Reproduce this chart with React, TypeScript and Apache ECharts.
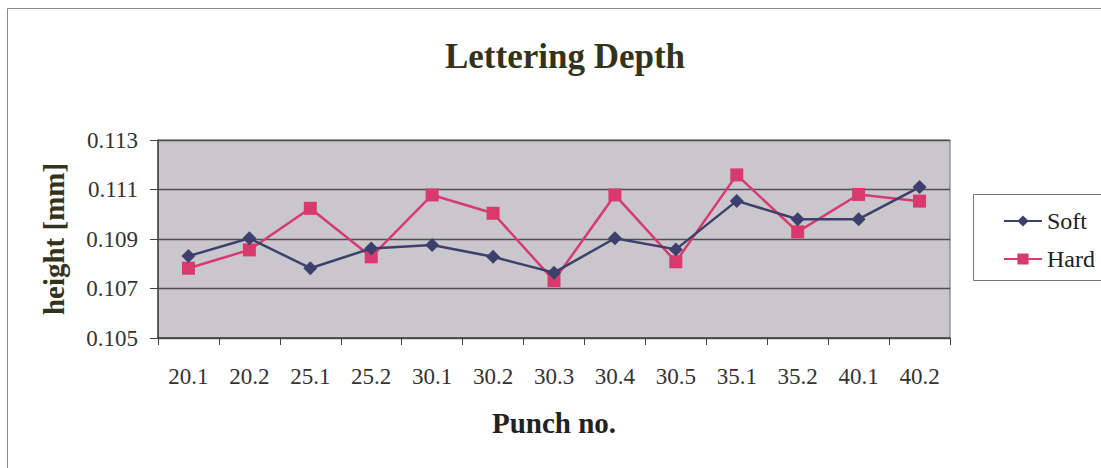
import React, { useEffect, useRef } from "react";
import * as echarts from "echarts";

const categories = ["20.1", "20.2", "25.1", "25.2", "30.1", "30.2", "30.3", "30.4", "30.5", "35.1", "35.2", "40.1", "40.2"];
const softValues = [0.10831, 0.10903, 0.10782, 0.10862, 0.10876, 0.10828, 0.10764, 0.10903, 0.10858, 0.11054, 0.1098, 0.1098, 0.1111];
const hardValues = [0.10782, 0.10856, 0.11024, 0.10828, 0.11078, 0.11004, 0.10732, 0.11078, 0.10808, 0.11159, 0.10929, 0.1108, 0.11053];
const yTicks = { min: 0.105, max: 0.113, interval: 0.002 };

const FONT = "'Liberation Serif', 'DejaVu Serif', serif";

export default function App() {
  const ref = useRef<HTMLDivElement>(null);
  useEffect(() => {
    document.body.style.margin = "0";
    const chart = echarts.init(ref.current!, null, { renderer: "svg" });
    chart.setOption({
      animation: false,
      backgroundColor: "#ffffff",
      title: {
        text: "Lettering Depth",
        left: 560,
        top: 34,
        textAlign: "center",
        textStyle: { fontFamily: FONT, fontSize: 35, fontWeight: "bold", color: "#33331c" },
      },
      graphic: [
        {
          type: "rect",
          shape: { x: 7.5, y: 8.5, width: 1100, height: 470 },
          style: { fill: "none", stroke: "#8c8c8c", lineWidth: 1 },
          silent: true,
        },
        {
          type: "rect",
          shape: { x: 973.5, y: 194.5, width: 140, height: 86 },
          style: { fill: "#ffffff", stroke: "#777777", lineWidth: 1 },
          silent: true,
          z: 0,
        },
      ],
      legend: {
        orient: "vertical",
        left: 1003,
        top: 209,
        itemWidth: 38,
        itemHeight: 14,
        itemGap: 14,
        padding: 0,
        textStyle: { fontFamily: FONT, fontSize: 24, color: "#222222" },
        data: ["Soft", "Hard"],
        z: 5,
      },
      grid: { left: 158, top: 140, width: 792, height: 198, show: true, backgroundColor: "#c9c6cc", borderColor: "#6d6d6d", borderWidth: 1 },
      xAxis: {
        type: "category",
        data: categories,
        boundaryGap: true,
        name: "Punch no.",
        nameLocation: "middle",
        nameGap: 70,
        nameTextStyle: { fontFamily: FONT, fontSize: 29, fontWeight: "bold", color: "#222222" },
        axisLine: { lineStyle: { color: "#444444", width: 1.5 } },
        axisTick: { show: true, inside: false, length: 7, alignWithLabel: false, lineStyle: { color: "#444444" } },
        axisLabel: { fontFamily: FONT, fontSize: 23, color: "#333333", margin: 27 },
      },
      yAxis: {
        type: "value",
        min: yTicks.min,
        max: yTicks.max,
        interval: yTicks.interval,
        name: "height [mm]",
        nameLocation: "middle",
        nameGap: 90,
        nameRotate: 90,
        nameTextStyle: { fontFamily: FONT, fontSize: 29, fontWeight: "bold", color: "#33331c" },
        axisLine: { show: true, lineStyle: { color: "#444444", width: 1.5 } },
        axisTick: { show: true, length: 8, lineStyle: { color: "#444444" } },
        axisLabel: { fontFamily: FONT, fontSize: 23, color: "#333333", margin: 20, formatter: (v: number) => v.toFixed(3) },
        splitLine: { show: true, lineStyle: { color: "#4f4f4f", width: 1.3 } },
      },
      series: [
        {
          name: "Soft",
          type: "line",
          data: softValues,
          symbol: "diamond",
          symbolSize: 14,
          lineStyle: { color: "#3d3f6c", width: 2.5 },
          itemStyle: { color: "#3d3f6c" },
          z: 3,
        },
        {
          name: "Hard",
          type: "line",
          data: hardValues,
          symbol: "rect",
          symbolSize: 13,
          lineStyle: { color: "#d83a6e", width: 2.5 },
          itemStyle: { color: "#d83a6e" },
          z: 2,
        },
      ],
    });
    return () => chart.dispose();
  }, []);
  return <div ref={ref} style={{ width: 1101, height: 468 }} />;
}
